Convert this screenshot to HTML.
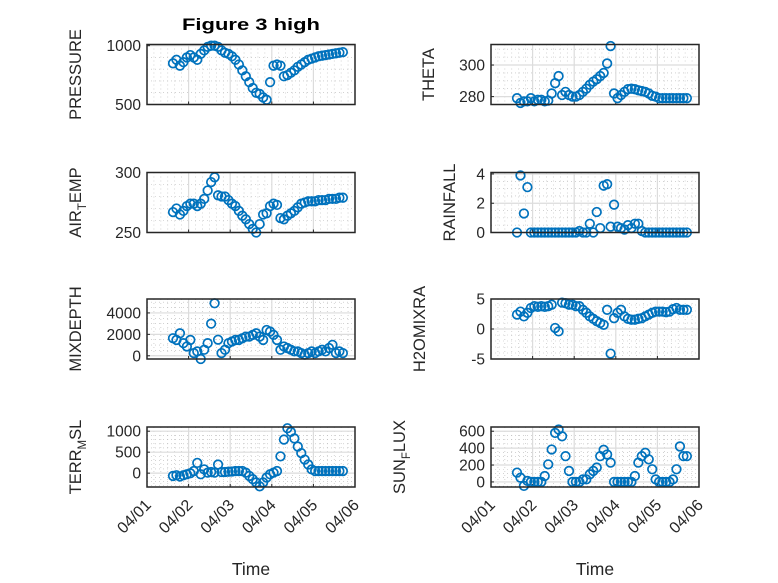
<!DOCTYPE html>
<html><head><meta charset="utf-8">
<style>
html,body{margin:0;padding:0;background:#fff;}
svg{display:block;font-family:"Liberation Sans",sans-serif;}
</style></head>
<body>
<svg id="fig" width="778" height="583" viewBox="0 0 778 583" xmlns="http://www.w3.org/2000/svg">
<rect x="0" y="0" width="778" height="583" fill="#fff"/>
<text x="251" y="30" text-anchor="middle" font-size="17" font-weight="bold" fill="#000" textLength="138" lengthAdjust="spacingAndGlyphs">Figure 3 high</text>
</svg>
<script>
const hours = [15,17,19,21,23,25,27,29,31,33,35,37,39,41,43,45,47,49,51,53,55,57,59,61,63,65,67,69,71,73,75,77,79,81,83,85,87,89,91,93,95,97,99,101,103,105,107,109,111,113];
const dayTicks = ["04/01","04/02","04/03","04/04","04/05","04/06"];
const pressure = [850,880,830,860,900,920,900,880,930,960,990,1000,1000,990,960,940,930,910,880,840,790,740,690,640,600,590,560,540,690,830,840,830,740,750,770,790,820,840,860,880,890,900,910,915,920,925,930,935,940,945];
const theta = [279,276,277,277,279,277,278,278,277,277.5,282,288.5,293,281,283,281,280,280,281,283,285,287.5,289.5,291,293,295,301,312,282,279,281,283,284.7,285,284.7,284,283.5,283,282,280.5,280,279,279,279,279,279,279,279,279,279];
const airTemp = [267,270,265,268,272,274,274,272,274,278,285,292,296,281,280,280,277,274,272,268,264,261,257,253,250,257,265,266,272,274,273,262,261,264,266,268,271,274,275,276,276,276,277,277,277,278,278,278,279,279];
const rainfall = [0,3.9,1.3,3.1,0,0,0,0,0,0,0,0,0,0,0,0,0,0,0.1,0,0,0.6,0,1.4,0.3,3.2,3.3,0.4,1.9,0.4,0.3,0.2,0.5,0.3,0.6,0.6,0.1,0,0,0,0,0,0,0,0,0,0,0,0,0];
const mixDepth = [1640,1480,2100,1180,870,1480,250,410,-300,560,1180,3000,4900,1500,250,560,1180,1330,1480,1480,1640,1790,1790,1950,2100,1790,1480,2410,2260,1950,1480,560,870,720,560,410,410,250,100,250,410,250,410,560,410,720,1020,250,410,250];
const h2oMix = [2.4,2.9,2.1,2.7,3.5,3.8,3.7,3.8,3.7,3.8,4.05,0.17,-0.4,4.4,4.3,4.05,4.05,3.8,3.8,3.2,2.7,2.1,1.7,1.3,1.0,0.7,3.2,-4.1,1.8,2.7,3.2,2.1,1.7,1.55,1.55,1.7,1.8,2.1,2.4,2.7,2.9,2.9,2.9,2.8,2.9,3.3,3.5,3.2,3.2,3.2];
const terrMsl = [-66,-50,-80,-50,-27,-3,50,245,-27,90,12,27,12,205,27,27,35,40,50,50,50,12,-66,-143,-221,-314,-221,-105,-27,12,50,400,800,1070,983,828,634,478,323,206,90,50,50,50,50,50,50,50,50,50];
const sunFlux = [110,50,-47,12,0,0,0,0,70,208,384,580,620,540,305,130,0,0,0,30,30,90,130,170,305,380,325,228,0,0,0,0,0,0,70,228,305,345,267,150,30,0,0,0,0,30,150,420,305,305];
const panels = [
 {name:"pressure", label:["PRESSURE"], data:pressure, col:0,row:0, ylim:[500,1010], ticks:[500,1000], minor:100, labX:81},
 {name:"theta", label:["THETA"], data:theta, col:1,row:0, ylim:[275,313], ticks:[280,300], minor:5, labX:434},
 {name:"air-temp", label:["AIR","T","EMP"], data:airTemp, col:0,row:1, ylim:[250,300], ticks:[250,300], minor:10, labX:81},
 {name:"rainfall", label:["RAINFALL"], data:rainfall, col:1,row:1, ylim:[0,4.1], ticks:[0,2,4], minor:0.5, labX:455},
 {name:"mixdepth", label:["MIXDEPTH"], data:mixDepth, col:0,row:2, ylim:[-300,5300], ticks:[0,2000,4000], minor:500, labX:81},
 {name:"h2omixra", label:["H2OMIXRA"], data:h2oMix, col:1,row:2, ylim:[-5,5], ticks:[-5,0,5], minor:1, labX:425},
 {name:"terr-msl", label:["TERR","M","SL"], data:terrMsl, col:0,row:3, ylim:[-330,1100], ticks:[0,500,1000], minor:100, labX:81},
 {name:"sun-flux", label:["SUN","F","LUX"], data:sunFlux, col:1,row:3, ylim:[-60,650], ticks:[0,200,400,600], minor:50, labX:405}
];
const colX = [147, 491], axW = 208;
const rowY = [44.5, 172.5, 299, 427], axH = 60;
const NS = "http://www.w3.org/2000/svg";
const svg = document.getElementById('fig');
function mk(tag, attrs, parent){const e=document.createElementNS(NS,tag);for(const k in attrs)e.setAttribute(k,attrs[k]);(parent||svg).appendChild(e);return e;}
panels.forEach(p=>{
  const x0=colX[p.col], y0=rowY[p.row];
  const g=mk('g',{});
  
  
  const sx=h=>x0+(h/24)/5*axW;
  const sy=v=>y0+axH-(v-p.ylim[0])/(p.ylim[1]-p.ylim[0])*axH;
  for(let h=4;h<120;h+=4){ if(h%24===0) continue; const x=sx(h);
    mk('line',{x1:x,x2:x,y1:y0,y2:y0+axH,stroke:'#b8b8b8','stroke-width':0.6,'stroke-dasharray':'1,3'},g);}
  const startM=Math.ceil(p.ylim[0]/p.minor)*p.minor;
  for(let v=startM; v<=p.ylim[1]+1e-9; v+=p.minor){ if(p.ticks.some(t=>Math.abs(t-v)<1e-9)) continue; const y=sy(v);
    mk('line',{x1:x0,x2:x0+axW,y1:y,y2:y,stroke:'#b8b8b8','stroke-width':0.6,'stroke-dasharray':'1,3'},g);}
  for(let d=1; d<5; d++){const x=sx(d*24); mk('line',{x1:x,x2:x,y1:y0,y2:y0+axH,stroke:'#dcdcdc','stroke-width':1.2},g);}
  p.ticks.forEach(t=>{const y=sy(t); mk('line',{x1:x0,x2:x0+axW,y1:y,y2:y,stroke:'#dcdcdc','stroke-width':1.2},g);
    const tl=mk('text',{x:x0-6,y:y+5.5,'text-anchor':'end','font-size':15.5,fill:'#262626'},g); tl.textContent=t;
    
    
    mk('line',{x1:x0,x2:x0+3,y1:y,y2:y,stroke:'#262626','stroke-width':1},g);
  });
  for(let d=1; d<5; d++){const x=sx(d*24); mk('line',{x1:x,x2:x,y1:y0+axH,y2:y0+axH-3,stroke:'#262626','stroke-width':1},g);}
  p.data.forEach((v,i)=>{
    const c=mk('circle',{cx:sx(hours[i]),cy:sy(v),r:4.3,fill:'none',stroke:'#0072BD','stroke-width':1.7},g);
    
    
  });
  const b=mk('rect',{x:x0,y:y0,width:axW,height:axH,fill:'none',stroke:'#262626','stroke-width':1.5},g);
  
  
  const cy=y0+axH/2;
  const lt=mk('text',{x:p.labX,y:cy,'text-anchor':'middle','font-size':16.5,fill:'#262626',transform:`rotate(-90 ${p.labX} ${cy})`},g);
  
  
  if(p.label.length===1){lt.textContent=p.label[0];}
  else{
    const a=mk('tspan',{},lt); a.textContent=p.label[0];
    const s=mk('tspan',{'font-size':11.5,dy:5},lt); s.textContent=p.label[1];
    const c=mk('tspan',{'font-size':16.5,dy:-5},lt); c.textContent=p.label[2];
  }
  if(p.row===3){
    dayTicks.forEach((t,d)=>{const x=sx(d*24), y=y0+axH+10;
      const tx=mk('text',{x:x+5,y:y+9,'text-anchor':'end','font-size':16,fill:'#262626',transform:`rotate(-45 ${x+5} ${y+9})`},g);
      tx.textContent=t;
      
      
    });
    const xl=mk('text',{x:x0+axW/2,y:575,'text-anchor':'middle','font-size':17.5,fill:'#262626'},g);
    xl.textContent='Time';
    
    
  }
});
</script>
</body></html>
